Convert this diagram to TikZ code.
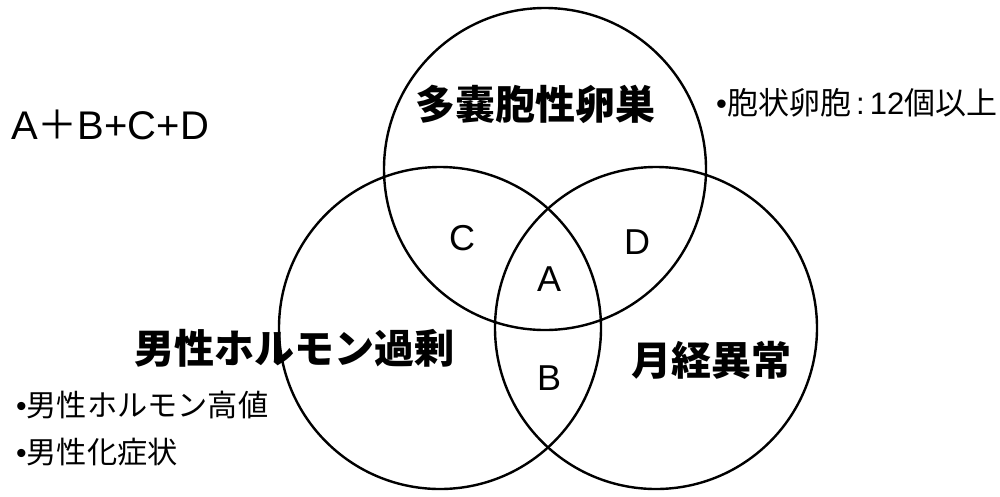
\documentclass[tikz,border=0pt]{standalone}
\usepackage{fontspec}
\setmainfont{Liberation Sans}
\newfontfamily\jp{Noto Sans CJK JP}
\tikzset{
  venn/.style={circle, draw=black, line width=2.4pt, minimum size=322pt, inner sep=0pt},
  head/.style={inner sep=0pt, font=\jp\bfseries\fontsize{40}{44}\selectfont},
  region/.style={inner sep=0pt, font=\fontsize{36}{40}\selectfont},
  note/.style={inner sep=0pt, anchor=west, font=\jp\fontsize{30.2}{33}\selectfont},
}
\begin{document}
\begin{tikzpicture}[x=1pt,y=-1pt]
\useasboundingbox (0,0) rectangle (1000,496);
\fill[white] (0,0) rectangle (1000,496);
\node[venn] (top) at (545,169) {};
\node[venn] (left) at (440,328) {};
\node[venn] (right) at (656,328) {};
\node[head] (t1) at (535,104) {多嚢胞性卵巣};
\node[head] (t2) at (294,348) {男性ホルモン過剰};
\node[head] (t3) at (711,360) {月経異常};
\node[region] (C) at (462,238) {C};
\node[region] (A) at (549,279) {A};
\node[region] (B) at (549,378) {B};
\node[region] (D) at (637,242) {D};
\node[inner sep=0pt, anchor=west, font=\fontsize{40}{44}\selectfont] (sum) at (11,125) {A{\jp ＋}B+C+D};
\node[note, font=\jp\fontsize{31}{34}\selectfont] (n1) at (716,103) {{\rmfamily•}胞状卵胞{\rmfamily\,:\,12}個以上};
\node[note] (n2) at (16,405) {{\rmfamily•}男性ホルモン高値};
\node[note] (n3) at (16,452) {{\rmfamily•}男性化症状};
\end{tikzpicture}
\end{document}
